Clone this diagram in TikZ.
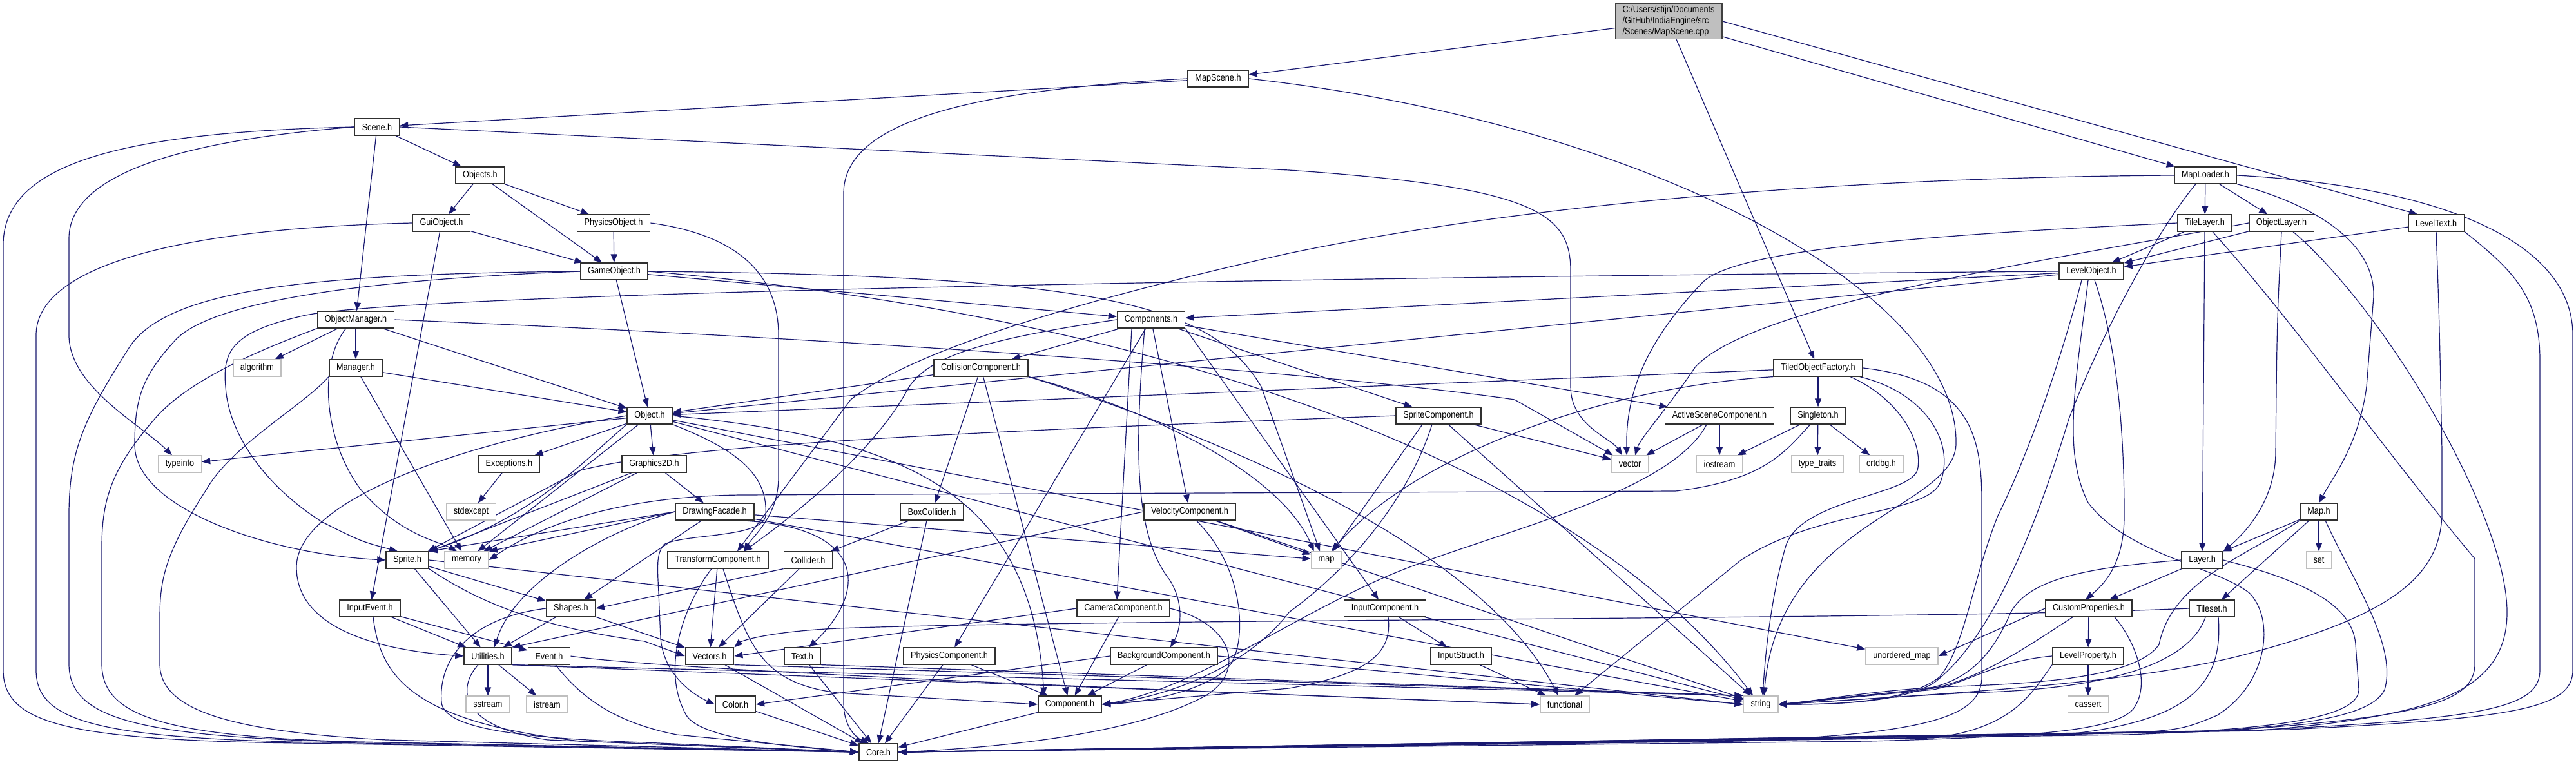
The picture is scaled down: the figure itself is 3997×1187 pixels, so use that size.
\documentclass[tikz,border=0pt]{standalone}
\usepackage{fontspec}
\newfontfamily\nf{Liberation Sans}[FakeStretch=0.88]
\usetikzlibrary{arrows.meta,calc}
\definecolor{edgeblue}{HTML}{191970}
\definecolor{sysgray}{HTML}{BFBFBF}
\definecolor{rootfill}{HTML}{BFBFBF}
\definecolor{rootline}{HTML}{404040}
\definecolor{boxline}{HTML}{303030}
\newcommand\nodefont{\nf\fontsize{7.2pt}{8.4pt}\selectfont}
\pgfdeclarelayer{bg}
\pgfsetlayers{bg,main}
\tikzset{
  nbox/.style={draw=boxline, line width=0.8pt, fill=white, inner xsep=5.6pt, inner ysep=0pt, minimum height=12.8pt, font=\nodefont},
  nsys/.style={nbox, draw=sysgray},
  nroot/.style={nbox, fill=rootfill, draw=rootline, align=left, inner ysep=2pt},
  dep/.style={draw=edgeblue, line width=0.6pt, -{Triangle[length=6.5pt,width=5pt]}},
}
\begin{document}
\begin{tikzpicture}[x=0.5pt,y=-0.5pt]
\useasboundingbox (0,0) rectangle (3997,1187);
% nodes
\node[nroot] (cpp) at (2589,33) {C:/Users/stijn/Documents\\/GitHub/IndiaEngine/src\\/Scenes/MapScene.cpp};
\node[nbox] (MapScene) at (1890,122) {MapScene.h};
\node[nbox] (Scene) at (585,197) {Scene.h};
\node[nbox] (MapLoader) at (3422,272) {MapLoader.h};
\node[nbox] (Objects) at (745,272) {Objects.h};
\node[nbox] (GuiObject) at (685,346) {GuiObject.h};
\node[nbox] (PhysicsObject) at (952,346) {PhysicsObject.h};
\node[nbox] (TileLayer) at (3421,346) {TileLayer.h};
\node[nbox] (ObjectLayer) at (3540,346) {ObjectLayer.h};
\node[nbox] (LevelText) at (3780,346) {LevelText.h};
\node[nbox] (GameObject) at (953,421) {GameObject.h};
\node[nbox] (LevelObject) at (3245,421) {LevelObject.h};
\node[nbox] (ObjectManager) at (552,496) {ObjectManager.h};
\node[nbox] (Components) at (1786,496) {Components.h};
\node[nsys] (algorithm) at (399,571) {algorithm};
\node[nbox] (Manager) at (552,571) {Manager.h};
\node[nbox] (CollisionComponent) at (1522,571) {CollisionComponent.h};
\node[nbox] (TiledObjectFactory) at (2821,571) {TiledObjectFactory.h};
\node[nbox] (Object) at (1008,645) {Object.h};
\node[nbox] (SpriteComponent) at (2232,645) {SpriteComponent.h};
\node[nbox] (ActiveSceneComponent) at (2668,645) {ActiveSceneComponent.h};
\node[nbox] (Singleton) at (2821,645) {Singleton.h};
\node[nsys] (typeinfo) at (279,720) {typeinfo};
\node[nbox] (Exceptions) at (790,720) {Exceptions.h};
\node[nbox] (Graphics2D) at (1015,720) {Graphics2D.h};
\node[nsys] (vector) at (2529,720) {vector};
\node[nsys] (iostream) at (2668,720) {iostream};
\node[nsys] (typetraits) at (2820,720) {type\_traits};
\node[nsys] (crtdbg) at (2919,720) {crtdbg.h};
\node[nsys] (stdexcept) at (731,794) {stdexcept};
\node[nbox] (DrawingFacade) at (1109,794) {DrawingFacade.h};
\node[nbox] (BoxCollider) at (1446,794) {BoxCollider.h};
\node[nbox] (VelocityComponent) at (1846,794) {VelocityComponent.h};
\node[nbox] (Map) at (3598,794) {Map.h};
\node[nbox] (Sprite) at (632,869) {Sprite.h};
\node[nsys] (memory) at (724,869) {memory};
\node[nbox] (TransformComponent) at (1114,869) {TransformComponent.h};
\node[nbox] (Collider) at (1254,869) {Collider.h};
\node[nsys] (map) at (2058,869) {map};
\node[nbox] (Layer) at (3417,869) {Layer.h};
\node[nsys] (set) at (3598,869) {set};
\node[nbox] (InputEvent) at (574,944) {InputEvent.h};
\node[nbox] (Shapes) at (886,944) {Shapes.h};
\node[nbox] (CameraComponent) at (1743,944) {CameraComponent.h};
\node[nbox] (InputComponent) at (2149,944) {InputComponent.h};
\node[nbox] (CustomProperties) at (3241,944) {CustomProperties.h};
\node[nbox] (Tileset) at (3432,944) {Tileset.h};
\node[nbox] (Utilities) at (757,1018) {Utilities.h};
\node[nbox] (Event) at (852,1018) {Event.h};
\node[nbox] (Vectors) at (1101,1018) {Vectors.h};
\node[nbox] (Text) at (1245,1018) {Text.h};
\node[nbox] (PhysicsComponent) at (1473,1018) {PhysicsComponent.h};
\node[nbox] (InputStruct) at (2267,1018) {InputStruct.h};
\node[nbox] (BackgroundComponent) at (1806,1018) {BackgroundComponent.h};
\node[nsys] (unorderedmap) at (2951,1018) {unordered\_map};
\node[nbox] (LevelProperty) at (3240,1018) {LevelProperty.h};
\node[nsys] (sstream) at (757,1093) {sstream};
\node[nsys] (istream) at (849,1093) {istream};
\node[nbox] (Color) at (1141,1093) {Color.h};
\node[nbox] (Component) at (1660,1093) {Component.h};
\node[nsys] (functional) at (2428,1093) {functional};
\node[nsys] (string) at (2732,1093) {string};
\node[nsys] (cassert) at (3240,1093) {cassert};
\node[nbox] (Core) at (1363,1167) {Core.h};

\begin{pgfonlayer}{bg}
\fill[white] (0,0) rectangle (3997,1187);
% root
\draw[dep] (cpp) -- (MapScene);
\draw[dep] (cpp) -- (TiledObjectFactory);
\draw[dep] (cpp) -- (MapLoader);
\draw[dep] (cpp.east) -- ($(LevelText.north west)+(15,0)$);
% MapScene
\draw[dep] (MapScene) -- (Scene);
\draw[dep] (MapScene.west) .. controls (1500,140) and (1309,190) .. (1309,300) -- (1309,1090) .. controls (1309,1130) and (1330,1145) .. ($(Core.north)+(-15,0)$);
\draw[dep] (MapScene.east) .. controls (2550,190) and (3040,450) .. (3035,690) .. controls (3030,790) and (2760,810) .. ($(string.north)+(5,0)$);
% Scene
\draw[dep] (Scene) -- (Objects);
\draw[dep] (Scene) -- (ObjectManager);
\draw[dep] (Scene.west) .. controls (320,215) and (107,260) .. (107,370) -- (107,520) .. controls (107,600) and (220,660) .. ($(typeinfo.north)+(-12,0)$);
\draw[dep] (Scene.west) .. controls (200,205) and (5,250) .. (5,380) -- (5,1040) .. controls (5,1120) and (100,1145) .. (400,1152) -- (Core.west);
\draw[dep] (Scene.east) -- (2000,264) .. controls (2380,290) and (2437,330) .. (2437,420) -- (2437,600) .. controls (2437,660) and (2500,680) .. ($(vector.north)+(-12,0)$);
% Objects
\draw[dep] (Objects) -- (GuiObject);
\draw[dep] (Objects) -- (PhysicsObject);
\draw[dep] (Objects) -- (GameObject);
% GuiObject
\draw[dep] (GuiObject) -- (GameObject);
\draw[dep] (GuiObject) -- (InputEvent);
\draw[dep] (GuiObject.west) .. controls (250,355) and (56,420) .. (56,520) -- (56,1040) .. controls (56,1118) and (150,1143) .. (450,1151) -- (Core.west);
% PhysicsObject
\draw[dep] (PhysicsObject) -- (GameObject);
\draw[dep] (PhysicsObject.east) .. controls (1150,365) and (1208,430) .. (1208,520) -- (1208,740) .. controls (1208,800) and (1170,830) .. ($(TransformComponent.north)+(40,0)$);
% GameObject
\draw[dep] (GameObject) -- (Object);
\draw[dep] (GameObject) -- (Components);
\draw[dep] (GameObject.west) .. controls (500,425) and (260,445) .. (200,540) .. controls (130,650) and (107,700) .. (107,800) -- (107,1030) .. controls (107,1110) and (200,1140) .. (500,1150) -- (Core.west);
\draw[dep] (GameObject.west) .. controls (620,432) and (330,460) .. (270,530) .. controls (220,585) and (209,620) .. (209,690) .. controls (209,790) and (420,860) .. (Sprite.west);
\draw[dep] (GameObject.east) .. controls (1700,428) and (1880,470) .. (1957,600) -- ($(map.north)+(-10,0)$);
\draw[dep] (GameObject.east) .. controls (1800,490) and (2450,720) .. ($(string.north)+(-12,0)$);
% ObjectManager
\draw[dep] (ObjectManager) -- (algorithm);
\draw[dep] (ObjectManager) -- (Manager);
\draw[dep] (ObjectManager) -- (Object);
\draw[dep] (ObjectManager.east) .. controls (1200,520) and (2000,570) .. (2350,620) -- ($(vector.north west)+(3,0)$);
\draw[dep] ($(ObjectManager.south)+(-15,0)$) .. controls (495,560) and (500,680) .. (560,760) .. controls (620,830) and (680,840) .. ($(memory.north)+(-15,0)$);
\draw[dep] (ObjectManager.south west) .. controls (440,530) and (300,580) .. (240,650) .. controls (170,730) and (158,780) .. (158,850) -- (158,1030) .. controls (158,1110) and (250,1142) .. (550,1151) -- (Core.west);
% Manager
\draw[dep] (Manager) -- (Object);
\draw[dep] (Manager) -- (memory);
\draw[dep] (Manager.south west) .. controls (470,630) and (360,690) .. (320,760) .. controls (255,860) and (248,900) .. (248,960) -- (248,1030) .. controls (248,1100) and (350,1135) .. (600,1148) -- (Core.west);
% Object
\draw[dep] (Object) -- (typeinfo);
\draw[dep] (Object) -- (Exceptions);
\draw[dep] (Object) -- (Graphics2D);
\draw[dep] (Object.south west) .. controls (900,720) and (830,800) .. (Sprite.north east);
\draw[dep] (Object) -- (memory);
\draw[dep] (Object) -- (unorderedmap);
\draw[dep] (Object) -- (string);
\draw[dep] (Object.west) .. controls (700,690) and (460,780) .. (460,880) .. controls (460,980) and (600,1010) .. (Utilities.west);
\draw[dep] (Object.south east) .. controls (1150,700) and (1192,740) .. (1188,800) .. controls (1184,835) and (1060,828) .. (1030,845) .. controls (1018,860) and (1020,880) .. (1022,920) -- (1025,990) .. controls (1030,1050) and (1080,1080) .. (Color.west);
\draw[dep] (Object.east) .. controls (1400,680) and (1600,760) .. ($(Component.north)+(-40,0)$);
% Graphics2D, Exceptions
\draw[dep] (Graphics2D) -- (DrawingFacade);
\draw[dep] (Graphics2D) -- (Sprite);
\draw[dep] (Graphics2D) -- (memory);
\draw[dep] (Exceptions) -- (stdexcept);
% DrawingFacade
\draw[dep] (DrawingFacade.west) -- (Sprite.north east);
\draw[dep] (DrawingFacade.west) -- (memory.north east);
\draw[dep] (DrawingFacade) -- (Shapes);
\draw[dep] (DrawingFacade.west) .. controls (950,820) and (800,900) .. ($(Utilities.north)+(10,0)$);
\draw[dep] ($(DrawingFacade.south)+(35,0)$) .. controls (1350,815) and (1345,920) .. ($(Text.north)+(10,0)$);
\draw[dep] (DrawingFacade) -- (map);
\draw[dep] (DrawingFacade) -- (string);
% Sprite
\draw[dep] (Sprite) -- (Shapes);
\draw[dep] (Sprite) -- (Utilities);
\draw[dep] (Sprite.south east) .. controls (750,940) and (850,975) .. (1000,995) -- (Vectors.west);
\draw[dep] (Sprite.east) -- (string.west);
% TransformComponent
\draw[dep] (TransformComponent) -- (Vectors);
\draw[dep] ($(TransformComponent.south)+(8,0)$) .. controls (1160,1000) and (1180,1060) .. (1300,1075) -- (Component.west);
\draw[dep] ($(TransformComponent.south)+(-10,0)$) .. controls (1060,940) and (1025,1040) .. (1065,1110) .. controls (1090,1150) and (1250,1160) .. (Core.west);
% Collider, BoxCollider
\draw[dep] (Collider) -- (Vectors);
\draw[dep] (Collider.south west) -- (Shapes.east);
\draw[dep] (BoxCollider) -- (Collider);
\draw[dep] ($(BoxCollider.south)+(-8,0)$) -- (Core.north);
% Shapes
\draw[dep] (Shapes) -- (Utilities);
\draw[dep] (Shapes) -- (Vectors);
\draw[dep] (Shapes.west) .. controls (720,960) and (680,1030) .. (685,1090) .. controls (690,1130) and (800,1145) .. (1000,1152) -- (Core.west);
% InputEvent
\draw[dep] (InputEvent) -- (Utilities);
\draw[dep] (InputEvent) -- (Event);
\draw[dep] ($(InputEvent.south)+(5,0)$) .. controls (590,1050) and (640,1120) .. (900,1150) -- (Core.west);
% Utilities, Event
\draw[dep] (Utilities) -- (sstream);
\draw[dep] (Utilities) -- (istream);
\draw[dep] ($(Utilities.south)+(-15,0)$) .. controls (715,1060) and (700,1125) .. (850,1148) -- (Core.west);
\draw[dep] (Utilities.south east) -- (string.north west);
\draw[dep] (Utilities.south east) -- (functional.west);
\draw[dep] (Event.east) .. controls (1000,1035) and (1500,1060) .. (functional.west);
\draw[dep] ($(Event.south)+(10,0)$) .. controls (900,1080) and (950,1120) .. (1050,1140) -- (Core.west);
% Vectors, Text, Color, Component
\draw[dep] (Vectors) -- (Core);
\draw[dep] (Vectors.south east) -- (string.north west);
\draw[dep] (Text) -- (Core);
\draw[dep] (Text.south east) -- (string.north west);
\draw[dep] (Color) -- (Core);
\draw[dep] (Component) -- (Core);
% PhysicsComponent, CameraComponent, BackgroundComponent
\draw[dep] (PhysicsComponent) -- (Component);
\draw[dep] (PhysicsComponent) -- (Core);
\draw[dep] (CameraComponent) -- (Component);
\draw[dep] (CameraComponent.west) -- (Vectors.east);
\draw[dep] (CameraComponent.east) .. controls (1920,970) and (1935,1050) .. (1860,1085) .. controls (1750,1140) and (1550,1160) .. (Core.east);
\draw[dep] (BackgroundComponent) -- (Component);
\draw[dep] (BackgroundComponent.west) -- (Color.east);
\draw[dep] (BackgroundComponent.east) -- (string.west);
% InputComponent, InputStruct
\draw[dep] (InputComponent) -- (InputStruct);
\draw[dep] ($(InputComponent.south)+(5,0)$) .. controls (2160,1010) and (2130,1045) .. (2000,1068) -- (Component.east);
\draw[dep] (InputStruct) -- (functional);
% VelocityComponent
\draw[dep] (VelocityComponent.west) -- (Utilities.north east);
\draw[dep] ($(VelocityComponent.south)+(10,0)$) .. controls (1930,880) and (1935,990) .. (1910,1030) .. controls (1880,1070) and (1780,1090) .. (Component.east);
\draw[dep] (VelocityComponent) -- (map);
\draw[dep] (VelocityComponent) -- (string);
% CollisionComponent
\draw[dep] (CollisionComponent) -- (BoxCollider);
\draw[dep] (CollisionComponent) -- (Component);
\draw[dep] (CollisionComponent) -- (Object);
\draw[dep] (CollisionComponent.south east) .. controls (1800,640) and (1990,740) .. ($(map.north west)+(5,0)$);
\draw[dep] (CollisionComponent.south east) .. controls (1900,680) and (2300,850) .. ($(functional.north)+(-10,0)$);
% Components
\draw[dep] (Components) -- (CollisionComponent);
\draw[dep] (Components) -- (SpriteComponent);
\draw[dep] (Components) -- (ActiveSceneComponent);
\draw[dep] (Components) -- (VelocityComponent);
\draw[dep] ($(Components.south)+(-30,0)$) -- ($(CameraComponent.north)+(-10,0)$);
\draw[dep] (Components) -- (PhysicsComponent);
\draw[dep] ($(Components.south)+(-10,0)$) .. controls (1760,700) and (1760,830) .. (1815,900) .. controls (1840,940) and (1830,980) .. ($(BackgroundComponent.north)+(10,0)$);
\draw[dep] (Components.south east) -- ($(InputComponent.north)+(-10,0)$);
\draw[dep] (Components.west) .. controls (1500,530) and (1430,560) .. (1405,610) .. controls (1360,690) and (1260,780) .. ($(TransformComponent.north)+(40,0)$);
% MapLoader
\draw[dep] (MapLoader) -- (TileLayer);
\draw[dep] (MapLoader) -- (ObjectLayer);
\draw[dep] (MapLoader.south east) .. controls (3600,320) and (3685,380) .. (3683,460) -- (3672,600) .. controls (3660,690) and (3620,740) .. (Map.north);
\draw[dep] ($(MapLoader.south)+(-15,0)$) .. controls (3345,360) and (3260,520) .. (3210,650) .. controls (3150,850) and (3080,1000) .. (3000,1060) .. controls (2950,1090) and (2850,1093) .. (string.east);
\draw[dep] (MapLoader.east) .. controls (3800,290) and (3992,380) .. (3992,520) -- (3992,1040) .. controls (3992,1100) and (3900,1115) .. (3550,1132) -- (Core.east);
\draw[dep] (MapLoader.west) .. controls (2900,275) and (2400,310) .. (2000,393) .. controls (1700,460) and (1420,540) .. (1320,620) -- ($(TransformComponent.north)+(30,0)$);
% LevelText
\draw[dep] (LevelText) -- (LevelObject);
\draw[dep] (LevelText.south) .. controls (3785,500) .. (3789,700) -- (3789,800) .. controls (3785,900) and (3700,960) .. (3470,1019) .. controls (3300,1060) and (3050,1075) .. (string.east);
\draw[dep] (LevelText.south east) .. controls (3900,420) and (3941,460) .. (3941,560) -- (3941,1040) .. controls (3941,1100) and (3850,1115) .. (3500,1133) -- (Core.east);
% LevelObject
\draw[dep] (LevelObject) -- (Components);
\draw[dep] (LevelObject) -- (Object);
\draw[dep] (LevelObject.west) .. controls (2000,430) and (620,455) .. (470,490) .. controls (360,515) and (345,545) .. (350,600) .. controls (355,680) and (420,760) .. (500,810) .. controls (560,840) .. ($(Sprite.north)+(-15,0)$);
\draw[dep] ($(LevelObject.south)+(5,0)$) .. controls (3290,550) and (3296,700) .. (3296,800) .. controls (3296,880) and (3260,910) .. ($(CustomProperties.north)+(-5,0)$);
\draw[dep] ($(LevelObject.south)+(-5,0)$) .. controls (3220,600) and (3200,700) .. (3240,780) .. controls (3300,860) and (3440,880) .. (3490,920) .. controls (3530,960) and (3520,1060) .. (3440,1110) .. controls (3380,1135) .. (3200,1140) -- (Core.east);
\draw[dep] ($(LevelObject.south)+(-15,0)$) .. controls (3200,550) and (3150,700) .. (3100,800) .. controls (3060,900) and (3050,1000) .. (3010,1050) .. controls (2960,1090) and (2850,1093) .. (string.east);
% TileLayer
\draw[dep] (TileLayer) -- (LevelObject);
\draw[dep] (TileLayer) -- (Layer);
\draw[dep] (TileLayer.west) .. controls (2900,368) and (2680,395) .. (2640,440) .. controls (2545,540) and (2523,620) .. ($(vector.north)+(-5,0)$);
\draw[dep] ($(TileLayer.south)+(12,0)$) .. controls (3560,500) and (3700,700) .. (3840,867) -- (3840,1030) .. controls (3840,1090) and (3760,1112) .. (3450,1134) -- (Core.east);
% ObjectLayer
\draw[dep] (ObjectLayer) -- (LevelObject);
\draw[dep] (ObjectLayer.south) .. controls (3533,500) .. (3531,700) .. controls (3531,780) and (3480,830) .. (Layer.north east);
\draw[dep] ($(ObjectLayer.south)+(18,0)$) .. controls (3700,480) and (3890,800) .. (3890,950) .. controls (3890,1080) and (3760,1112) .. (3500,1134) -- (Core.east);
\draw[dep] (ObjectLayer.west) .. controls (3200,400) and (2720,470) .. (2630,570) .. controls (2590,630) and (2545,680) .. ($(vector.north)+(8,0)$);
% TiledObjectFactory
\draw[dep] (TiledObjectFactory) -- (Singleton);
\draw[dep] (TiledObjectFactory) -- (Object);
\draw[dep] (TiledObjectFactory.south west) .. controls (2500,600) and (2200,700) .. ($(map.north)+(8,0)$);
\draw[dep] ($(TiledObjectFactory.south)+(50,0)$) .. controls (2950,620) and (2985,690) .. (2975,730) .. controls (2960,770) and (2790,775) .. (2770,850) .. controls (2750,920) and (2740,1000) .. ($(string.north)+(3,0)$);
\draw[dep] ($(TiledObjectFactory.south east)+(-5,0)$) .. controls (2990,610) and (3035,690) .. (3010,750) .. controls (2985,800) and (2820,790) .. (2700,870) -- ($(functional.north)+(15,0)$);
\draw[dep] (TiledObjectFactory.east) .. controls (3060,590) and (3075,680) .. (3075,780) -- (3075,1050) .. controls (3075,1110) and (3000,1138) .. (2700,1150) -- (Core.east);
% Singleton
\draw[dep] (Singleton) -- (iostream);
\draw[dep] (Singleton) -- (typetraits);
\draw[dep] (Singleton) -- (crtdbg);
\draw[dep] ($(Singleton.south)+(-12,0)$) .. controls (2770,700) and (2740,745) .. (2600,762) -- (1150,768) .. controls (950,770) and (830,820) .. (memory.east);
% ActiveSceneComponent
\draw[dep] (ActiveSceneComponent) -- (vector);
\draw[dep] (ActiveSceneComponent) -- (iostream);
\draw[dep] ($(ActiveSceneComponent.south)+(-20,0)$) .. controls (2590,770) and (2300,830) .. (2150,895) .. controls (2000,960) and (1850,1070) .. (Component.east);
% SpriteComponent
\draw[dep] (SpriteComponent) -- (vector);
\draw[dep] ($(SpriteComponent.south)+(-25,0)$) -- ($(map.north)+(10,0)$);
\draw[dep] (SpriteComponent.west) .. controls (1500,670) and (1050,690) .. (900,730) -- ($(Sprite.north east)+(-2,0)$);
\draw[dep] (SpriteComponent) -- (string);
\draw[dep] ($(SpriteComponent.south)+(-10,0)$) .. controls (2190,760) and (2110,870) .. (2000,950) .. controls (1940,1030) and (1820,1080) .. (Component.east);
% Map
\draw[dep] (Map) -- (Layer);
\draw[dep] (Map) -- (set);
\draw[dep] (Map) -- (Tileset);
\draw[dep] (Map.south west) .. controls (3490,860) and (3370,900) .. (3350,1000) .. controls (3310,1060) and (3100,1062) .. (3010,1066) .. controls (2900,1072) and (2800,1090) .. (string.east);
\draw[dep] ($(Map.south)+(10,0)$) .. controls (3650,900) and (3720,1000) .. (3700,1070) .. controls (3680,1115) and (3550,1128) .. (3400,1136) -- (Core.east);
% Layer
\draw[dep] (Layer) -- (CustomProperties);
\draw[dep] (Layer.west) .. controls (3250,880) and (3150,895) .. (3120,950) .. controls (3090,1020) and (3050,1060) .. (2980,1070) .. controls (2880,1080) .. (string.east);
\draw[dep] (Layer.east) .. controls (3550,895) and (3650,930) .. (3655,1000) -- (3660,1070) .. controls (3660,1115) and (3520,1132) .. (3300,1140) -- (Core.east);
% Tileset
\draw[dep] (Tileset.west) .. controls (3000,962) and (1700,960) .. (1300,975) .. controls (1190,980) and (1150,995) .. (Vectors.north east);
\draw[dep] ($(Tileset.south)+(-10,0)$) .. controls (3400,1020) and (3300,1070) .. (3050,1075) -- (string.east);
\draw[dep] ($(Tileset.south)+(10,0)$) .. controls (3450,1060) and (3400,1120) .. (3200,1140) -- (Core.east);
% CustomProperties
\draw[dep] (CustomProperties) -- (LevelProperty);
\draw[dep] (CustomProperties.west) -- (unorderedmap.east);
\draw[dep] ($(CustomProperties.south)+(-25,0)$) .. controls (3150,1000) and (3080,1050) .. (3000,1068) -- (string.east);
\draw[dep] ($(CustomProperties.south)+(40,0)$) .. controls (3310,990) and (3340,1060) .. (3310,1100) .. controls (3280,1135) and (3150,1143) .. (2900,1150) -- (Core.east);
% LevelProperty
\draw[dep] (LevelProperty) -- (cassert);
\draw[dep] (LevelProperty.west) .. controls (3100,1025) and (3050,1060) .. (3000,1070) -- (string.east);
\draw[dep] (LevelProperty.south west) .. controls (3150,1080) and (3120,1130) .. (3000,1145) -- (Core.east);
\end{pgfonlayer}
\end{tikzpicture}
\end{document}
